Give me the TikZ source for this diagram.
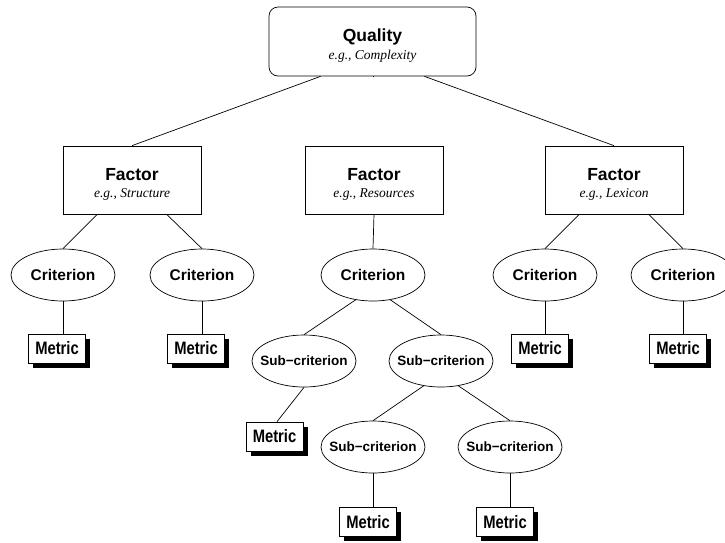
\documentclass[tikz,border=0pt]{standalone}
\usepackage{fontspec}
\setmainfont{Liberation Serif}
\setsansfont{Liberation Sans}
\usepackage{tikz}
\usetikzlibrary{shapes.geometric,shadows,calc}
\newcommand{\headtext}[1]{{\sffamily\bfseries\fontsize{17.5}{17.5}\selectfont\rule{0pt}{21pt}#1}}
\newcommand{\egtext}[1]{{\rmfamily\itshape\fontsize{13.5}{17.5}\selectfont e.g., #1}}
\newcommand{\metrictext}{\scalebox{0.82}[1]{Metric}}

\begin{document}
\begin{tikzpicture}[x=1pt,y=-1pt,line width=0.7pt,
  qualbox/.style={rectangle,draw,rounded corners=9pt,minimum width=207pt,
    minimum height=69pt,align=center,font=\fontsize{13.5}{17.5}\selectfont},
  factorbox/.style={rectangle,draw,minimum width=138pt,minimum height=68pt,
    align=center,font=\fontsize{13.5}{17.5}\selectfont},
  crit/.style={ellipse,draw,minimum width=104pt,minimum height=52pt,
    inner sep=0pt,font=\sffamily\bfseries\fontsize{15.5}{18}\selectfont},
  subcrit/.style={crit,inner xsep=-8pt,font=\sffamily\bfseries\fontsize{13.5}{16}\selectfont},
  metric/.style={rectangle,draw,fill=white,minimum width=57pt,minimum height=29pt,
    inner sep=0pt,font=\sffamily\bfseries\fontsize{18}{20}\selectfont,
    drop shadow={shadow xshift=4.5pt,shadow yshift=-4.5pt,fill=black,opacity=1}}]
\useasboundingbox (0,0) rectangle (725,542);
% quality and factors
\node[qualbox] (qual) at (372.5,41.5) {\headtext{Quality}\\\egtext{Complexity}};
\node[factorbox] (facL) at (132,180) {\headtext{Factor}\\\egtext{Structure}};
\node[factorbox] (facM) at (374,180) {\headtext{Factor}\\\egtext{Resources}};
\node[factorbox] (facR) at (614,180) {\headtext{Factor}\\\egtext{Lexicon}};
% criteria
\node[crit] (critL1) at (63,275) {Criterion};
\node[crit] (critL2) at (202,275) {Criterion};
\node[crit] (critM)  at (373,275) {Criterion};
\node[crit] (critR1) at (545,275) {Criterion};
\node[crit] (critR2) at (683,275) {Criterion};
\node[subcrit] (subL)  at (304,361) {Sub−criterion};
\node[subcrit] (subR)  at (441,361) {Sub−criterion};
\node[subcrit] (subRL) at (373,447) {Sub−criterion};
\node[subcrit] (subRR) at (510,447) {Sub−criterion};
% metrics
\node[metric] (metL1) at (57,348.5) {\metrictext};
\node[metric] (metL2) at (196,348.5) {\metrictext};
\node[metric] (metR1) at (540,348.5) {\metrictext};
\node[metric] (metR2) at (678,348.5) {\metrictext};
\node[metric] (metSL) at (274.5,436.5) {\metrictext};
\node[metric] (metRL) at (368,522) {\metrictext};
\node[metric] (metRR) at (505,522) {\metrictext};
% connectors
\draw ($(qual.south west)!0.5!(qual.south)$) -- (facL.north);
\draw (qual.south) -- (qual.south -| facM.north);
\draw ($(qual.south)!0.5!(qual.south east)$) -- (facR.north);
\draw ($(facL.south west)!0.5!(facL.south)$) -- (critL1.north);
\draw ($(facL.south)!0.5!(facL.south east)$) -- (critL2.north);
\draw (facM.south) -- (critM.north);
\draw ($(facR.south west)!0.5!(facR.south)$) -- (critR1.north);
\draw ($(facR.south)!0.5!(facR.south east)$) -- (critR2.north);
\foreach \c/\m in {critL1/metL1,critL2/metL2,critR1/metR1,critR2/metR2,
    subRL/metRL,subRR/metRR}
  \draw (\c.south) -- (\c.south |- \m.north);
\draw (critM.235) -- (subL.north);
\draw (critM.305) -- (subR.north);
\draw (subL.south) -- ($(metSL.north)+(2.5,0)$);
\draw (subR.235) -- (subRL.north);
\draw (subR.305) -- (subRR.north);
\end{tikzpicture}
\end{document}
